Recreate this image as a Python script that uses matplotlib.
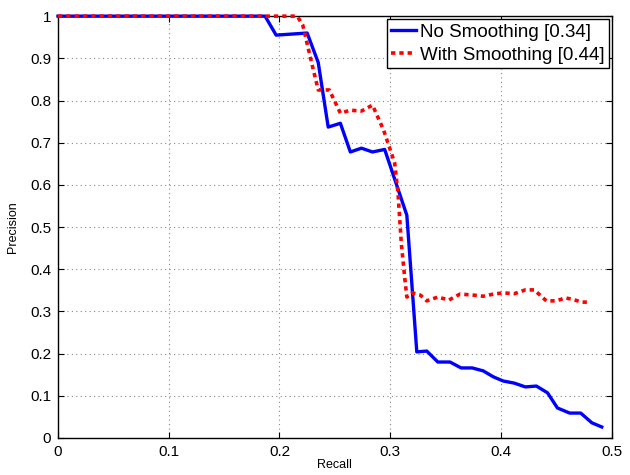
import matplotlib
matplotlib.use('Agg')
import matplotlib.pyplot as plt

plt.rcParams['font.family'] = ['Liberation Sans', 'DejaVu Sans']

# Precision/recall without smoothing
recall_raw = [0.0, 0.187, 0.197, 0.225, 0.235, 0.244, 0.255, 0.264, 0.274, 0.284,
              0.295, 0.315, 0.324, 0.333, 0.343, 0.354, 0.364, 0.374, 0.384, 0.393,
              0.402, 0.412, 0.422, 0.432, 0.442, 0.451, 0.462, 0.472, 0.482, 0.491]
prec_raw = [1.0, 1.0, 0.955, 0.960, 0.890, 0.737, 0.746, 0.678, 0.687, 0.678,
            0.684, 0.528, 0.204, 0.206, 0.180, 0.180, 0.166, 0.166, 0.159, 0.145,
            0.135, 0.130, 0.121, 0.123, 0.107, 0.071, 0.059, 0.059, 0.036, 0.026]

# Precision/recall with smoothing
recall_smooth = [0.0, 0.216, 0.221, 0.230, 0.235, 0.245, 0.255, 0.264, 0.274, 0.284,
                 0.294, 0.304, 0.307, 0.310, 0.313, 0.315, 0.320, 0.327, 0.333, 0.343,
                 0.353, 0.363, 0.374, 0.384, 0.393, 0.402, 0.412, 0.422, 0.430, 0.441,
                 0.450, 0.458, 0.464, 0.473, 0.481]
prec_smooth = [1.0, 1.0, 0.979, 0.879, 0.825, 0.825, 0.770, 0.777, 0.775, 0.789,
               0.730, 0.652, 0.581, 0.462, 0.382, 0.334, 0.344, 0.339, 0.325, 0.334,
               0.327, 0.341, 0.339, 0.336, 0.341, 0.344, 0.342, 0.351, 0.351, 0.325,
               0.325, 0.332, 0.329, 0.322, 0.322]

labels = ['No Smoothing [0.34]', 'With Smoothing [0.44]']
xticks = [0, 0.1, 0.2, 0.3, 0.4, 0.5]
yticks = [0, 0.1, 0.2, 0.3, 0.4, 0.5, 0.6, 0.7, 0.8, 0.9, 1]

fig = plt.figure(figsize=(6.3, 4.75), dpi=100)
ax = fig.add_axes([0.092, 0.078, 0.879, 0.888])

ax.plot(recall_raw, prec_raw, color='#0000ff', lw=2.4, label=labels[0],
        clip_on=False, zorder=4)
ax.plot(recall_smooth, prec_smooth, color='#ff0000', lw=2.6, label=labels[1],
        linestyle=(0, (1.2, 1.1)), clip_on=False, zorder=5)

ax.set_xlim(0, 0.5)
ax.set_ylim(0, 1)
ax.set_xticks(xticks)
ax.set_yticks(yticks)
ax.set_xticklabels([('%g' % t) for t in xticks])
ax.set_yticklabels([('%g' % t) for t in yticks])
ax.tick_params(direction='in', length=4, labelsize=11, top=True, right=True, pad=5)
ax.grid(True, linestyle=(0, (1, 3)), color='#888888', lw=0.8)
for s in ax.spines.values():
    s.set_linewidth(1.0)

ax.set_xlabel('Recall', fontsize=9, labelpad=0)
ax.set_ylabel('Precision', fontsize=9, labelpad=8)

leg = ax.legend(loc='upper right', fontsize=13.5, handlelength=1.3, handletextpad=0.2,
                borderpad=0.25, borderaxespad=0.15, labelspacing=0.3, fancybox=False,
                framealpha=1)
leg.set_zorder(10)
leg.get_frame().set_edgecolor('black')
leg.get_frame().set_linewidth(1.0)

fig.savefig('out.png', dpi=100)
